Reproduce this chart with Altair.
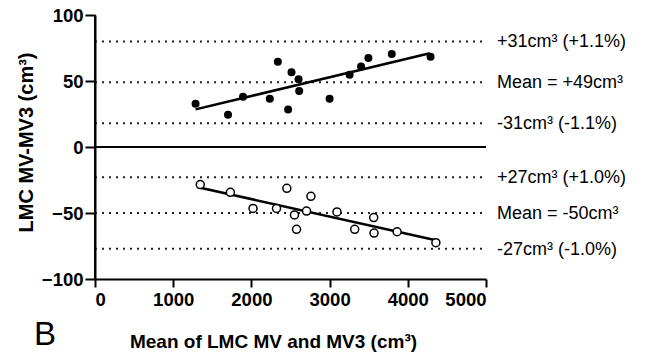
import altair as alt
import pandas as pd

# Filled points (upper group)
filled_x = [1286, 1701, 1893, 2235, 2338, 2470, 2513, 2603, 2611, 3000, 3256, 3402, 3496, 3795, 4291]
filled_y = [32.8, 24.5, 38.1, 36.6, 64.6, 28.5, 56.6, 51.3, 42.4, 36.6, 54.8, 60.9, 67.4, 70.5, 68.4]
# Open points (lower group)
open_x = [1346, 1731, 2021, 2321, 2453, 2551, 2577, 2705, 2761, 3094, 3321, 3564, 3568, 3863, 4359]
open_y = [-28.5, -34.3, -46.5, -46.5, -31.3, -51.5, -62.4, -48.5, -37.4, -49.2, -62.4, -53.5, -65.2, -64.2, -72.5]
# Fitted line end points
fit_group = ["top", "top", "bottom", "bottom"]
fit_x = [1286, 4282, 1346, 4359]
fit_y = [28.5, 71.0, -30.8, -70.7]
# Reference (mean / limit) lines
ref_y = [80, 49, 18, -23, -50, -77]
ref_labels = ["+31cm³ (+1.1%)", "Mean = +49cm³", "-31cm³ (-1.1%)",
              "+27cm³ (+1.0%)", "Mean = -50cm³", "-27cm³ (-1.0%)"]
x_ticks = [0, 1000, 2000, 3000, 4000, 5000]
y_ticks = [-100, -50, 0, 50, 100]

FONT = "Liberation Sans"
W, H = 391, 264

filled = pd.DataFrame({"x": filled_x, "y": filled_y})
opened = pd.DataFrame({"x": open_x, "y": open_y})
fits = pd.DataFrame({"g": fit_group, "x": fit_x, "y": fit_y})
refs = pd.DataFrame({"y": ref_y, "label": ref_labels})

xs = alt.Scale(domain=[0, 5000], nice=False, zero=False)
ys = alt.Scale(domain=[-100, 100], nice=False, zero=False)

xax = alt.Axis(values=x_ticks, format="d", title="Mean of LMC MV and MV3 (cm³)", domain=True,
               titleX=178, titleY=68, titleBaseline="alphabetic", titleAlign="center",
               tickSize=8, labelPadding=3)
yax = alt.Axis(values=y_ticks, title="LMC MV-MV3 (cm³)", titleX=-69, titleY=H / 2 - 5,
               domain=True, titleAlign="center", titleBaseline="middle", titleAngle=-90,
               tickSize=10, labelPadding=2, titleFontSize=20)

base_x = alt.X("x:Q", scale=xs, axis=xax)
base_y = alt.Y("y:Q", scale=ys, axis=yax)

dotted = alt.Chart(refs).mark_rule(strokeDash=[2, 5], strokeWidth=2, color="#222").encode(
    x=alt.datum(0, scale=xs), x2=alt.datum(5000), y=alt.Y("y:Q", scale=ys, axis=yax)
)
zero = alt.Chart(pd.DataFrame({"y": [0]})).mark_rule(strokeWidth=2, color="black").encode(
    x=alt.datum(0, scale=xs), x2=alt.datum(5000), y=alt.Y("y:Q", scale=ys, axis=yax)
)
yline = alt.Chart(pd.DataFrame({"x": [0]})).mark_rule(strokeWidth=2, color="black").encode(
    x=alt.X("x:Q", scale=xs, axis=xax), y=alt.datum(-100, scale=ys), y2=alt.datum(100)
)
lines = alt.Chart(fits).mark_line(strokeWidth=2.5, color="black").encode(
    x=base_x, y=base_y, detail="g:N"
)
pts_f = alt.Chart(filled).mark_circle(size=64, color="black", opacity=1).encode(x=base_x, y=base_y)
pts_o = alt.Chart(opened).mark_point(shape="circle", filled=True, fill="white", stroke="black",
                                     strokeWidth=1.5, size=64, opacity=1).encode(x=base_x, y=base_y)
labels = alt.Chart(refs).mark_text(align="left", baseline="middle", dx=11, dy=1, fontSize=18,
                                   font=FONT, color="black", clip=False).encode(
    x=alt.datum(5000, scale=xs), y=alt.Y("y:Q", scale=ys, axis=yax), text="label:N"
)
panel = alt.Chart(pd.DataFrame({"t": ["B"]})).mark_text(
    align="center", baseline="alphabetic", fontSize=33, font=FONT, color="black"
).encode(x=alt.value(-50), y=alt.value(330), text="t:N")

chart = alt.layer(dotted, zero, yline, lines, pts_o, pts_f, labels, panel).properties(
    width=W, height=H,
    autosize=alt.AutoSizeParams(type="none"),
    padding={"left": 95, "top": 15, "right": 162, "bottom": 81},
).configure_view(stroke=None).configure_axis(
    grid=False, domainColor="black", domainWidth=2, tickColor="black", tickWidth=2,
    labelFont=FONT, labelFontWeight="bold", labelFontSize=18.5,
    labelColor="black", titleFont=FONT, titleFontWeight="bold", titleFontSize=19,
    titleColor="black"
)

chart.save("out.html", embed_options={"renderer": "svg", "actions": False})
